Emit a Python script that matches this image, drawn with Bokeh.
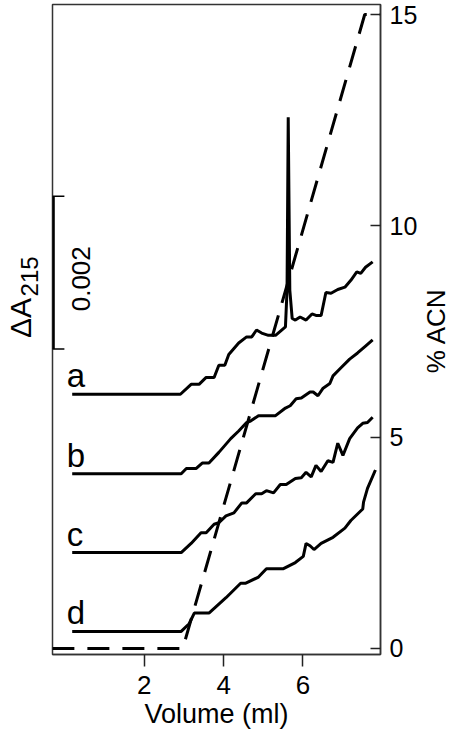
import math
from bokeh.plotting import figure
from bokeh.models import Range1d, LinearAxis, FixedTicker
from bokeh.layouts import row
from bokeh.core.properties import value
from bokeh.embed import file_html
from bokeh.resources import INLINE

FONT = "Liberation Sans"

# ---------------- data ----------------
trace_labels = ["a", "b", "c", "d"]
trace_offsets_mAU = [3.48, 2.44, 1.41, 0.38]   # vertical stacking of the traces (mAU)

a_x = [0.18, 2.91, 3.18, 3.38, 3.56, 3.76, 3.88, 4.03, 4.13, 4.38, 4.58, 4.71, 4.83, 4.96,
       5.13, 5.31, 5.56, 5.60, 5.63, 5.67, 5.73, 5.81, 5.93, 6.08, 6.23, 6.33, 6.46, 6.58,
       6.71, 6.88, 7.06, 7.21, 7.36, 7.46, 7.58, 7.76]
a_y = [0, 0, 0.13, 0.13, 0.22, 0.22, 0.38, 0.38, 0.52, 0.67, 0.75, 0.75, 0.84, 0.80,
       0.77, 0.77, 0.88, 1.36, 3.62, 1.36, 0.99, 0.97, 1.01, 0.97, 1.05, 1.03, 1.03, 1.33,
       1.32, 1.37, 1.40, 1.49, 1.60, 1.58, 1.66, 1.73]

b_x = [0.18, 2.93, 3.06, 3.31, 3.46, 3.63, 3.88, 4.18, 4.38, 4.58, 4.68, 4.88, 5.31, 5.56,
       5.68, 5.83, 5.96, 6.18, 6.26, 6.38, 6.51, 6.68, 6.76, 6.93, 7.18, 7.38, 7.58, 7.76]
b_y = [0, 0, 0.07, 0.07, 0.14, 0.14, 0.28, 0.46, 0.56, 0.67, 0.69, 0.76, 0.76, 0.86,
       0.89, 0.98, 0.99, 1.07, 1.07, 1.02, 1.12, 1.18, 1.28, 1.37, 1.50, 1.58, 1.67, 1.75]

c_x = [0.18, 2.93, 3.18, 3.43, 3.56, 3.76, 3.88, 4.06, 4.26, 4.46, 4.58, 4.81, 4.96, 5.08,
       5.26, 5.43, 5.58, 5.81, 5.96, 6.08, 6.21, 6.33, 6.46, 6.63, 6.76, 6.88, 7.01, 7.18,
       7.38, 7.51, 7.63, 7.76]
c_y = [0, 0, 0.12, 0.26, 0.26, 0.37, 0.39, 0.48, 0.52, 0.65, 0.65, 0.77, 0.77, 0.81,
       0.78, 0.89, 0.89, 0.97, 0.98, 1.05, 0.99, 1.14, 1.06, 1.20, 1.18, 1.43, 1.27, 1.49,
       1.63, 1.69, 1.70, 1.77]

d_x = [0.18, 2.93, 3.13, 3.26, 3.63, 4.06, 4.43, 4.56, 4.88, 5.08, 5.51, 5.81, 6.01, 6.08,
       6.18, 6.28, 6.46, 6.76, 7.06, 7.21, 7.51, 7.53, 7.63, 7.83]
d_y = [0, 0, 0.10, 0.24, 0.24, 0.44, 0.63, 0.63, 0.71, 0.82, 0.82, 0.90, 0.98, 1.15,
       1.12, 1.07, 1.15, 1.23, 1.35, 1.45, 1.60, 1.69, 1.87, 2.11]

acn_x = [-0.32, 2.97, 7.56, 7.96]      # gradient (% ACN)
acn_y = [0, 0, 15, 15]

x_ticks = [2, 4, 6]
acn_ticks = [0, 5, 10, 15]
scale_bar_AU = 0.002
scale_bar_base_mAU = 4.07

# ---------------- shared ranges / sizes ----------------
X0, X1 = -0.317, 7.958
Y_ACN = Range1d(-0.142, 15.237)
Y_ABS = Range1d(0.078, 8.575)
TOP, BOTTOM, H = 4, 78, 732


def strip(width, x_range, y_range):
    f = figure(width=width, height=H, output_backend="svg", toolbar_location=None,
               title=None, x_range=x_range, y_range=y_range,
               x_axis_location=None, y_axis_location=None,
               min_border_left=0, min_border_right=0, min_border_top=TOP,
               min_border_bottom=BOTTOM,
               background_fill_color="white", border_fill_color="white")
    f.outline_line_color = None
    f.grid.visible = False
    return f


# ---------------- left strip: ΔA215 title ----------------
L = strip(50, Range1d(0, 50), Y_ABS)
L.text(x=[20], y=[4.477], text=["ΔA"], angle=math.pi / 2, text_font=value(FONT),
       text_font_size="30px", text_align="center", text_baseline="middle",
       text_color="black")
L.text(x=[28.5], y=[5.02], text=["215"], angle=math.pi / 2, text_font=value(FONT),
       text_font_size="24px", text_align="center", text_baseline="middle",
       text_color="black")

# ---------------- main figure ----------------
p = figure(width=370, height=H, output_backend="svg", toolbar_location=None,
           title=None, x_range=Range1d(X0, X1), y_range=Y_ACN,
           y_axis_location=None,
           min_border_left=2, min_border_right=37, min_border_top=TOP,
           min_border_bottom=BOTTOM,
           background_fill_color="white", border_fill_color="white")
p.outline_line_color = "#333333"
p.outline_line_width = 1.5
p.extra_y_ranges = {"abs": Y_ABS}
p.grid.visible = False

xa = p.xaxis[0]
xa.ticker = FixedTicker(ticks=x_ticks)
xa.major_tick_out = 12
xa.major_tick_in = 0
xa.minor_tick_out = 0
xa.minor_tick_in = 0
xa.major_tick_line_width = 1.5
xa.major_tick_line_color = "#222222"
xa.axis_line_color = "#333333"
xa.axis_line_width = 1.5
xa.major_label_standoff = 9
xa.major_label_text_font = FONT
xa.major_label_text_font_size = "26px"
xa.major_label_text_color = "black"
xa.axis_label = "Volume (ml)"
xa.axis_label_standoff = 2
xa.axis_label_text_font = FONT
xa.axis_label_text_font_size = "27px"
xa.axis_label_text_font_style = "normal"
xa.axis_label_text_color = "black"

ya = LinearAxis(ticker=FixedTicker(ticks=acn_ticks))
ya.major_tick_in = 10
ya.major_tick_out = 0
ya.minor_tick_in = 0
ya.minor_tick_out = 0
ya.major_tick_line_width = 1.5
ya.major_tick_line_color = "#222222"
ya.axis_line_color = "#333333"
ya.axis_line_width = 1.5
ya.major_label_standoff = 9
ya.major_label_text_font = FONT
ya.major_label_text_font_size = "25px"
ya.major_label_text_color = "black"
p.add_layout(ya, "right")

# gradient
p.line(acn_x, acn_y, line_color="black", line_width=3, line_dash="22 13")

# traces
for xs, ys, off in zip([a_x, b_x, c_x, d_x], [a_y, b_y, c_y, d_y], trace_offsets_mAU):
    p.line(xs, [v + off for v in ys], y_range_name="abs",
           line_color="black", line_width=3)

# trace letters
p.text(x=[0.04] * 4, y=list(trace_offsets_mAU), text=trace_labels,
       y_range_name="abs", text_font=value(FONT), text_font_size="33px",
       text_align="left", text_baseline="bottom", text_color="black")

# scale bar
sb_top = scale_bar_base_mAU + scale_bar_AU * 1000
p.segment(x0=[X0 + 0.02], y0=[scale_bar_base_mAU], x1=[X0 + 0.02], y1=[sb_top],
          y_range_name="abs", line_color="black", line_width=3)
p.segment(x0=[X0, X0], y0=[scale_bar_base_mAU, sb_top], x1=[X0 + 0.3, X0 + 0.3],
          y1=[scale_bar_base_mAU, sb_top], y_range_name="abs",
          line_color="black", line_width=1.5)
p.text(x=[0.41], y=[(scale_bar_base_mAU + sb_top) / 2 - 0.08], text=[f"{scale_bar_AU}"],
       y_range_name="abs", angle=math.pi / 2, text_font=value(FONT),
       text_font_size="26px", text_align="center", text_baseline="middle",
       text_color="black")

# ---------------- right strip: % ACN title ----------------
q = strip(30, Range1d(0, 1), Y_ACN)
q.text(x=[0.5], y=[7.52], text=["% ACN"], angle=math.pi / 2, text_font=value(FONT),
       text_font_size="26px", text_align="center", text_baseline="middle",
       text_color="black")

layout = row(L, p, q, spacing=0)
open("out.html", "w").write(file_html(layout, INLINE))
